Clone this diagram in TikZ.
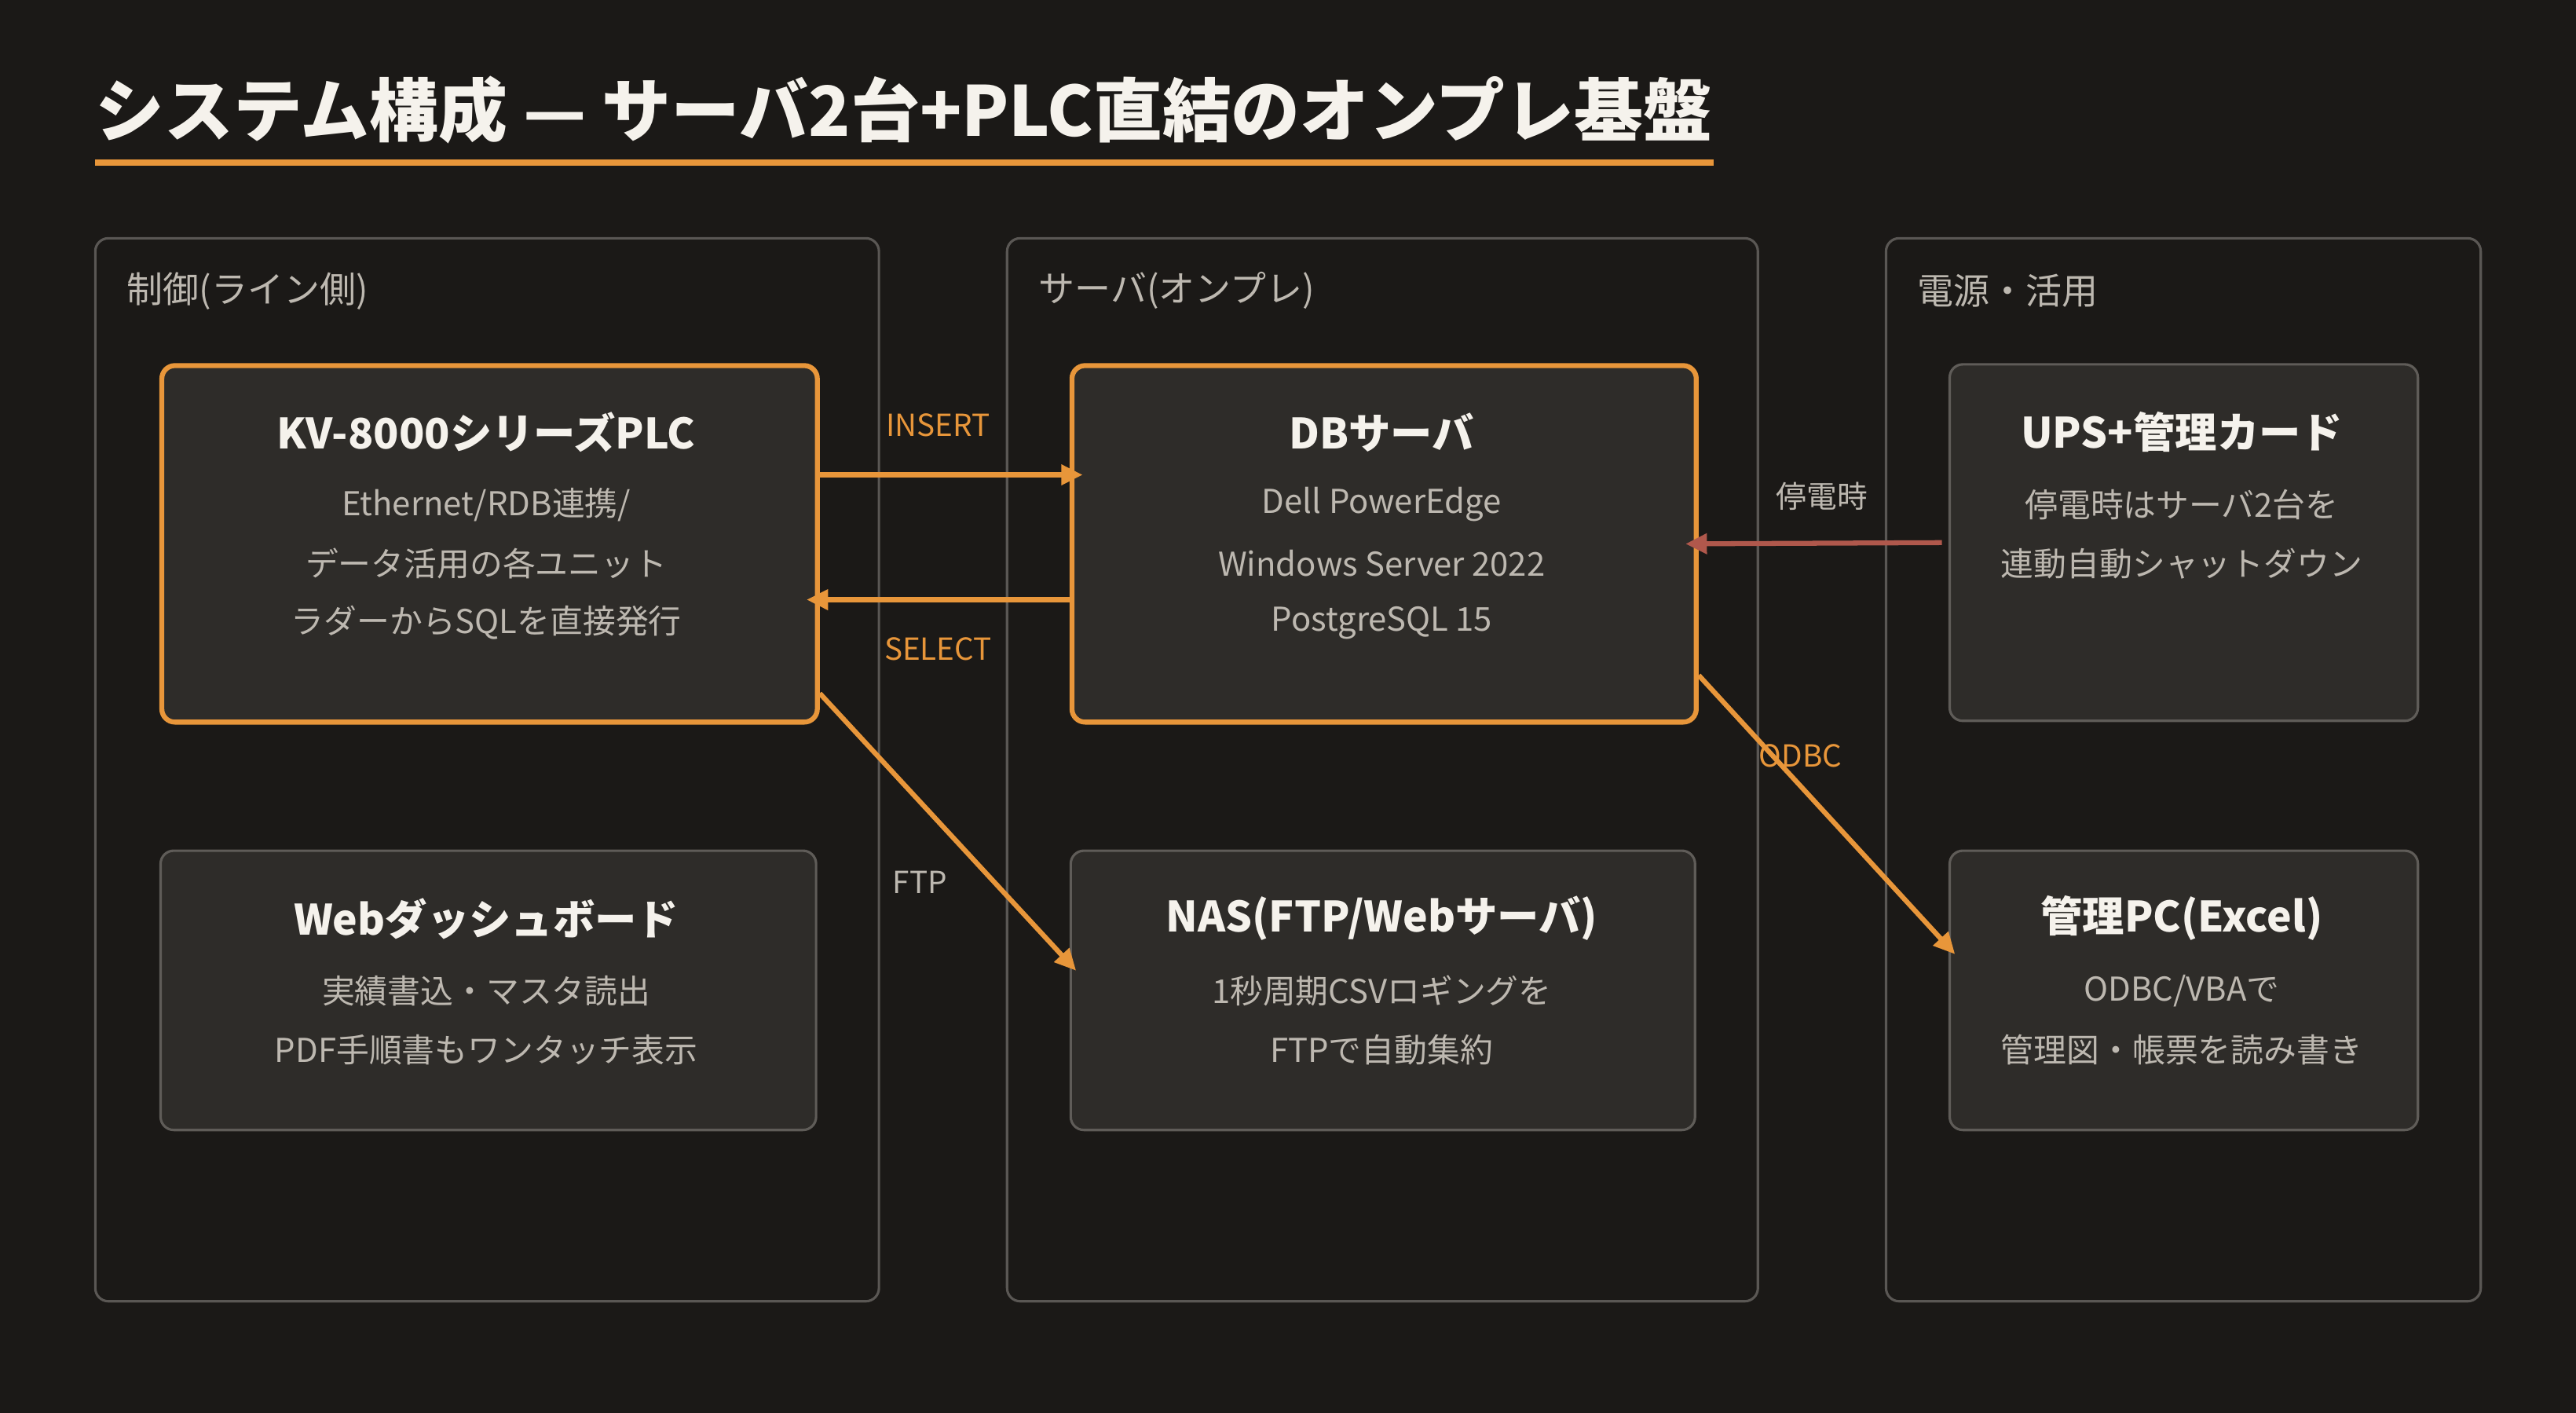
\documentclass[tikz,border=0pt]{standalone}
\usepackage{fontspec}
\setmainfont{Noto Sans CJK JP}
\usetikzlibrary{arrows.meta,calc}
\definecolor{bg}{HTML}{1B1917}
\definecolor{boxf}{HTML}{2E2C29}
\definecolor{grp}{HTML}{5A5754}
\definecolor{boxb}{HTML}{5F5C58}
\definecolor{txt}{HTML}{BDB8B0}
\definecolor{ttl}{HTML}{F5F2EC}
\definecolor{org}{HTML}{E8963A}
\definecolor{red}{HTML}{B0584C}
\tikzset{
 grpbox/.style={draw=grp,line width=1.5pt,rounded corners=8pt},
 grplabel/.style={anchor=west,text=txt,font=\fontsize{22}{24}\selectfont,inner sep=0},
 card/.style={draw=boxb,fill=boxf,line width=1.5pt,rounded corners=8pt,anchor=north west},
 hot/.style={card,draw=org,line width=3pt},
 ctitle/.style={text=ttl,font=\bfseries\fontsize{25.5}{28}\selectfont},
 cline/.style={text=txt,font=\fontsize{20}{22}\selectfont},
 conn/.style={draw=org,line width=3pt,-{Triangle[length=13pt,width=12pt]}},
 elabel/.style={text=org,font=\fontsize{18.5}{20}\selectfont},
 glabel/.style={text=txt,font=\fontsize{18.5}{20}\selectfont},
}
\begin{document}
\begin{tikzpicture}[x=1pt,y=-1pt]
\fill[bg] (0,0) rectangle (1568,860);
\useasboundingbox (0,0) rectangle (1568,860);
\node[anchor=west,text=ttl,font=\bfseries\fontsize{42}{48}\selectfont,inner sep=0] (title) at (58,67) {システム構成 — サーバ2台+PLC直結のオンプレ基盤};
\draw[org,line width=4pt] (58,99) -- (1043,99);
% groups
\draw[grpbox] (58,145) rectangle (535,792);
\node[grplabel] (g1) at (77,177) {制御(ライン側)};
\draw[grpbox] (613,145) rectangle (1070,792);
\node[grplabel] (g2) at (632,177) {サーバ(オンプレ)};
\draw[grpbox] (1148,145) rectangle (1510,792);
\node[grplabel] (g3) at (1167,177) {電源・活用};
% cards
\node[hot,minimum width=399pt,minimum height=217pt] (plc) at (97,221) {};
\node[ctitle] (plct) at (296,263) {KV-8000シリーズPLC};
\node[cline] (plc1) at (296,307) {Ethernet/RDB連携/};
\node[cline] (plc2) at (296,343) {データ活用の各ユニット};
\node[cline] (plc3) at (296,379) {ラダーからSQLを直接発行};
\node[card,minimum width=399pt,minimum height=170pt] (web) at (97,517) {};
\node[ctitle] (webt) at (296,559) {Webダッシュボード};
\node[cline] (web1) at (296,603) {実績書込・マスタ読出};
\node[cline] (web2) at (296,639) {PDF手順書もワンタッチ表示};
\node[hot,minimum width=380pt,minimum height=217pt] (db) at (651,221) {};
\node[ctitle] (dbt) at (841,263) {DBサーバ};
\node[cline] (db1) at (841,307) {Dell PowerEdge};
\node[cline] (db2) at (841,343) {Windows Server 2022};
\node[cline] (db3) at (841,379) {PostgreSQL 15};
\node[card,minimum width=380pt,minimum height=170pt] (nas) at (651,517) {};
\node[ctitle] (nast) at (841,559) {NAS(FTP/Webサーバ)};
\node[cline] (nas1) at (841,603) {1秒周期CSVロギングを};
\node[cline] (nas2) at (841,639) {FTPで自動集約};
\node[card,minimum width=285pt,minimum height=217pt] (ups) at (1186,221) {};
\node[ctitle] (upst) at (1328,263) {UPS+管理カード};
\node[cline] (ups1) at (1328,307) {停電時はサーバ2台を};
\node[cline] (ups2) at (1328,343) {連動自動シャットダウン};
\node[card,minimum width=285pt,minimum height=170pt] (pc) at (1186,517) {};
\node[ctitle] (pct) at (1328,559) {管理PC(Excel)};
\node[cline] (pc1) at (1328,603) {ODBC/VBAで};
\node[cline] (pc2) at (1328,639) {管理図・帳票を読み書き};
% connectors
\draw[conn] ([yshift=42pt]plc.east) -- ([xshift=8pt,yshift=42pt]db.west);
\node[elabel] (lins) at (571,259) {INSERT};
\draw[conn] ([yshift=-34pt]db.west) -- ([xshift=-8pt,yshift=-34pt]plc.east);
\node[elabel] (lsel) at (571,395) {SELECT};
\draw[conn] ([yshift=-91pt]plc.east) -- ([xshift=4pt,yshift=12pt]nas.west);
\node[glabel] (lftp) at (560,537) {FTP};
\draw[conn] ([yshift=-80pt]db.east) -- ([xshift=4pt,yshift=22pt]pc.west);
\node[elabel] (lodbc) at (1096,460) {ODBC};
\draw[conn,draw=red] ([xshift=-4pt]ups.west) -- ([xshift=-8pt]db.east);
\node[glabel] (lpow) at (1109,302) {停電時};
\end{tikzpicture}
\end{document}
